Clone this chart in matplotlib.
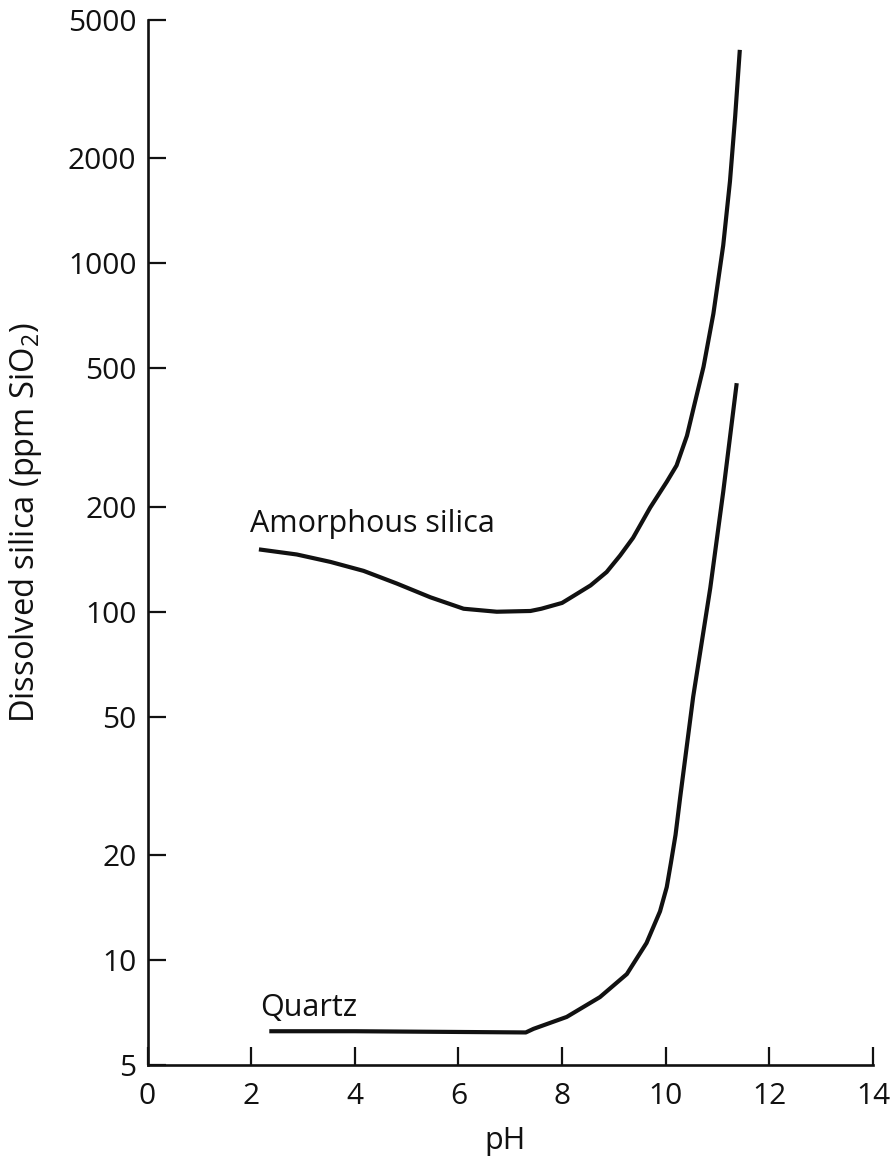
import matplotlib
matplotlib.use("Agg")
import matplotlib.pyplot as plt
from matplotlib.ticker import FixedLocator, NullLocator, FixedFormatter

plt.rcParams['font.family'] = ['Open Sans', 'DejaVu Sans']
plt.rcParams['mathtext.default'] = 'regular'

# values (pH, ppm SiO2)
amorphous_ph = [2.15, 2.88, 3.53, 4.17, 4.81, 5.46, 6.10, 6.74, 7.39, 7.6, 8.0, 8.22,
                8.55, 8.86, 9.12, 9.37, 9.70, 10.02, 10.21, 10.41, 10.53, 10.73,
                10.92, 11.11, 11.24, 11.34, 11.43]
amorphous_ppm = [151, 146, 139, 131, 120.5, 110, 102, 100, 100.5, 102, 106, 111,
                 119, 130, 145, 163, 199, 236, 263, 320, 380, 505,
                 717, 1127, 1720, 2636, 4100]

quartz_ph = [2.35, 4.0, 6.0, 7.3, 7.45, 8.09, 8.73, 9.25, 9.63, 9.89, 10.02,
             10.10, 10.19, 10.28, 10.53, 10.86, 11.11, 11.37]
quartz_ppm = [6.25, 6.25, 6.22, 6.2, 6.35, 6.87, 7.83, 9.12, 11.2, 13.8, 16.2,
              19.0, 22.9, 29.4, 57, 117, 221, 453]

x_ticks = [0, 2, 4, 6, 8, 10, 12, 14]
y_ticks = [5, 10, 20, 50, 100, 200, 500, 1000, 2000, 5000]
y_tick_labels = [str(v) for v in y_ticks]

INK = '#111111'


def main():
    fig = plt.figure(figsize=(8.94, 11.6), dpi=100)
    ax = fig.add_axes([0.165, 0.0819, 0.8115, 0.901])

    ax.plot(amorphous_ph, amorphous_ppm, color=INK, lw=3, solid_capstyle='butt')
    ax.plot(quartz_ph, quartz_ppm, color=INK, lw=3, solid_capstyle='butt')

    ax.set_yscale('log')
    ax.set_xlim(0, 14)
    ax.set_ylim(5, 5000)

    ax.set_xticks(x_ticks)
    ax.yaxis.set_major_locator(FixedLocator(y_ticks))
    ax.yaxis.set_major_formatter(FixedFormatter(y_tick_labels))
    ax.yaxis.set_minor_locator(NullLocator())

    for side in ('top', 'right'):
        ax.spines[side].set_visible(False)
    for side in ('left', 'bottom'):
        ax.spines[side].set_linewidth(1.9)
        ax.spines[side].set_color(INK)

    ax.tick_params(axis='both', direction='in', length=13, width=1.6,
                   colors=INK, labelsize=21.5)
    ax.tick_params(axis='y', pad=8)
    ax.tick_params(axis='x', pad=12)

    ax.set_xlabel("pH", fontsize=22, color=INK)
    ax.xaxis.set_label_coords(0.493, -0.058)
    ax.set_ylabel("Dissolved silica (ppm SiO$_2$)", fontsize=23.5, color=INK)
    ax.yaxis.set_label_coords(-0.142, 0.519)

    ax.text(1.97, 178, "Amorphous silica", fontsize=22, color=INK,
            ha='left', va='center')
    ax.text(2.17, 7.3, "Quartz", fontsize=22, color=INK,
            ha='left', va='center')

    fig.savefig("out.png", dpi=100, facecolor='white')
    plt.close(fig)


if __name__ == "__main__":
    main()
